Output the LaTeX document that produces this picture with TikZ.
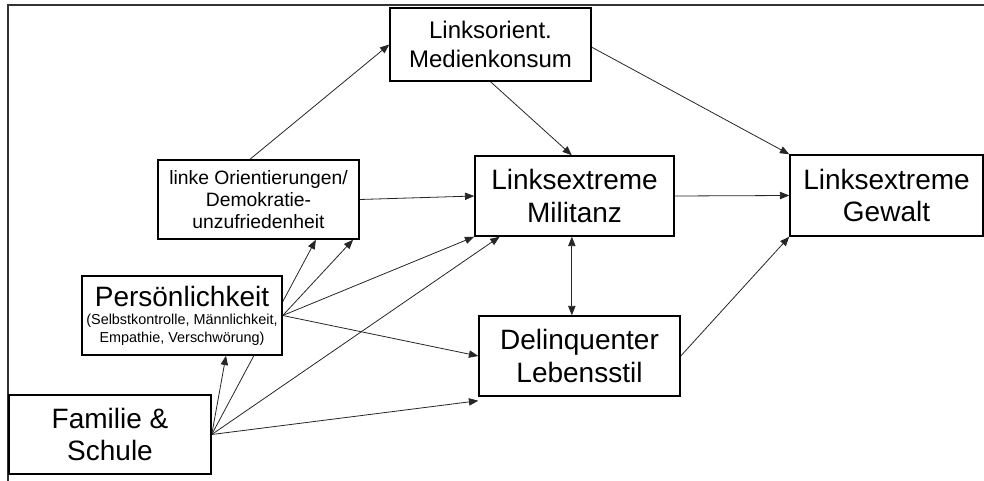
\documentclass[tikz,border=0pt]{standalone}
\usepackage{fontspec}
\setmainfont{Liberation Sans}
\usetikzlibrary{arrows.meta,backgrounds}

\tikzset{every picture/.style={line width=0.75pt}}
\tikzset{
  box/.style={draw, fill=white, line width=1.1pt, align=center, inner sep=2pt},
  bigtext/.style={font=\fontsize{21}{24.5}\selectfont},
  conn/.style={line width=0.6pt, draw=black!85, -{Triangle[length=7pt,width=5.5pt]}},
}

\begin{document}
\begin{tikzpicture}[x=0.75pt,y=0.75pt,yscale=-1,xscale=1]
\useasboundingbox (0,0) rectangle (984,481);

%Frame
\draw [line width=1.6pt, draw=black!80] (8,481) -- (8,5) -- (984,5);

% Text Node
\node [box, minimum width=150.75pt, minimum height=54.75pt, font=\fontsize{18}{21.75}\selectfont] (medien) at (490.5,44.5) {Linksorient.\\Medienkonsum};
% Text Node
\node [box, minimum width=150.75pt, minimum height=59.25pt, font=\fontsize{14.5}{16.5}\selectfont] (orient) at (258.5,199.5) {linke Orientierungen/\\Demokratie-\\unzufriedenheit};
% Text Node
\node [box, bigtext, minimum width=149.25pt, minimum height=60pt] (militanz) at (574.5,196) {Linksextreme\\Militanz};
% Text Node
\node [box, bigtext, minimum width=144.75pt, minimum height=60.75pt] (gewalt) at (886.5,195.5) {Linksextreme\\Gewalt};
% Text Node
\node [box, minimum width=150pt, minimum height=59.25pt, font=\fontsize{10.8}{13.5}\selectfont] (pers) at (182,315.5) {{\fontsize{21}{24}\selectfont Persönlichkeit}\\(Selbstkontrolle, Männlichkeit,\\Empathie, Verschwörung)};
% Text Node
\node [box, bigtext, minimum width=150.75pt, minimum height=60pt] (delinq) at (579.5,356) {Delinquenter\\Lebensstil};
% Text Node
\node [box, bigtext, minimum width=151.5pt, minimum height=59.25pt] (familie) at (110,434.5) {Familie \&\\Schule};

\begin{scope}[on background layer]
%Straight Lines
\draw [conn] ([xshift=-6.4pt]orient.north) -- (medien.west);
\draw [conn] (medien.south) -- ([xshift=-2pt]militanz.north);
\draw [conn] ([yshift=2pt]medien.east) -- (gewalt.north west);
\draw [conn] (orient.east) -- (militanz.west);
\draw [conn] (militanz.east) -- (gewalt.west);
\draw [conn, {Triangle[length=7pt,width=5.5pt]}-{Triangle[length=7pt,width=5.5pt]}] ([xshift=-2pt]militanz.south) -- ([xshift=-2pt]militanz.south |- delinq.north);
\draw [conn] (delinq.east) -- (gewalt.south west);
%Straight Lines
\draw [conn] (pers.east) -- ([xshift=-5pt]orient.south east);
\draw [conn] (pers.east) -- (militanz.south west);
\draw [conn] (pers.east) -- (delinq.west);
%Straight Lines
\draw [conn] (familie.east) -- ([xshift=33pt]pers.south);
\draw [conn] (familie.east) -- ([xshift=43pt]orient.south);
\draw [conn] (familie.east) -- ([xshift=19pt]militanz.south west);
\draw [conn] (familie.east) -- ([yshift=3pt]delinq.south west);
\end{scope}

\end{tikzpicture}
\end{document}
